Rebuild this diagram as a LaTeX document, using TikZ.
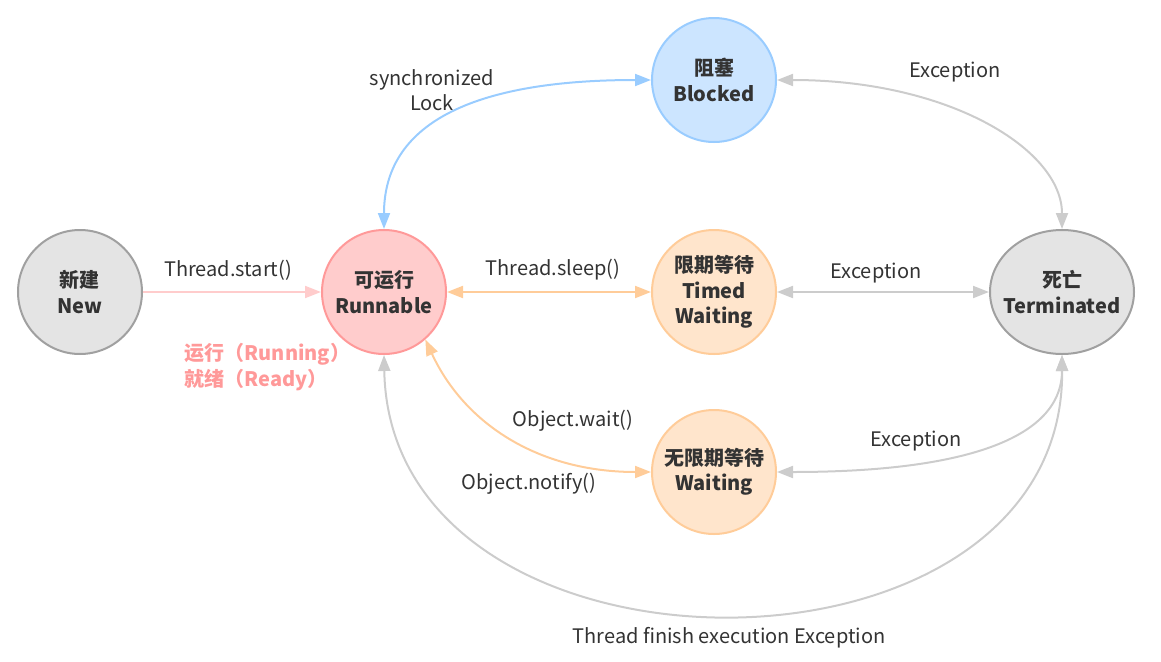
\documentclass[tikz,border=0pt]{standalone}
\usepackage{fontspec}
\setmainfont{Noto Sans CJK SC}
\usetikzlibrary{shapes.geometric, arrows.meta, positioning}
\definecolor{txtgray}{HTML}{333333}
\definecolor{deadfill}{HTML}{E4E4E4}
\definecolor{deadline}{HTML}{A0A0A0}
\definecolor{runfill}{HTML}{FFCCCC}
\definecolor{runline}{HTML}{FF9999}
\definecolor{blkfill}{HTML}{CCE5FF}
\definecolor{blkline}{HTML}{99CCFF}
\definecolor{waitfill}{HTML}{FFE5CC}
\definecolor{waitline}{HTML}{FFCC99}
\definecolor{exline}{HTML}{CCCCCC}
\newcommand{\diagfont}{\fontsize{15}{19}\selectfont}
\tikzset{
	state/.style={
		draw,
		circle,
		inner sep=0pt,
		minimum size=93pt,
		line width=1.5pt,
		align=center,
		font=\diagfont\bfseries,
		text=txtgray
	},
	graystate/.style={state, fill=deadfill, draw=deadline},
	runstate/.style={state, fill=runfill, draw=runline},
	blkstate/.style={state, fill=blkfill, draw=blkline},
	waitstate/.style={state, fill=waitfill, draw=waitline},
	trans/.style={line width=1.5pt},
	lbl/.style={text=txtgray, align=center}
}

\begin{document}
\begin{tikzpicture}[x=0.75pt, y=-0.75pt, font=\diagfont,
	>={Triangle[length=12pt, width=9pt]}]
	\useasboundingbox (0,0) rectangle (1161,661);

	% states
	\node[graystate] (new) at (80,292) {新建\\New};
	\node[runstate] (run) at (384,292) {可运行\\Runnable};
	\node[blkstate] (blk) at (714,80) {阻塞\\Blocked};
	\node[waitstate] (timed) at (714,292) {限期等待\\Timed\\Waiting};
	\node[waitstate] (wait) at (714,472) {无限期等待\\Waiting};
	\node[graystate, ellipse, inner xsep=-6pt, minimum width=108pt, minimum height=93pt] (term) at (1062,292) {死亡\\Terminated};

	% transitions
	\draw[trans, runfill, ->] (new) -- (run);
	\draw[trans, blkline, <->] (run.north) .. controls (384,125) and (470,80) .. (blk.west);
	\draw[trans, waitline, <->] (run) -- (timed);
	\draw[trans, waitline, <->] (run.-49) .. controls (465,425) and (540,472) .. (wait.west);

	% exceptions
	\begin{scope}[trans, exline]
		\draw[<->] (blk.east) .. controls (950,80) and (1062,150) .. (term.north);
		\draw[<->] (timed) -- (term);
		\draw[<->] (wait.east) .. controls (960,472) and (1062,440) .. (term.south);
		\draw[<->] (run.south) .. controls (390,700) and (1065,700) .. (term.south);
	\end{scope}

	% labels
	\node[lbl] (startlbl) at (228,270) {Thread.start()};
	\node[lbl] (synclbl) at (432,90) {synchronized\\Lock};
	\node[lbl] (sleeplbl) at (553,270) {Thread.sleep()};
	\node[lbl] (waitlbl) at (573,421) {Object.wait()};
	\node[lbl] (notifylbl) at (529,484) {Object.notify()};
	\node[lbl] (blkexlbl) at (955,72) {Exception};
	\node[lbl] (timedexlbl) at (876,273) {Exception};
	\node[lbl] (waitexlbl) at (916,441) {Exception};
	\node[lbl] (finishlbl) at (729,638) {Thread finish execution Exception};
	\node[anchor=west, align=left, text=runline, font=\diagfont\bfseries] (runlbl) at (180,367) {运行（Running）\\就绪（Ready）};
\end{tikzpicture}
\end{document}
